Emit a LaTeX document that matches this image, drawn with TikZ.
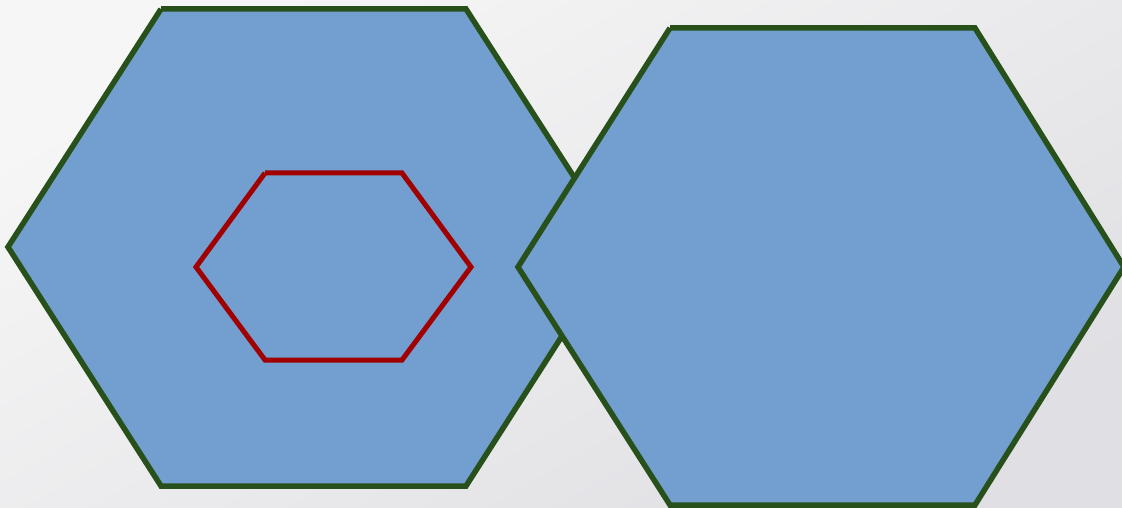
\documentclass[tikz,border=0pt]{standalone}
\usetikzlibrary{shadings}
\definecolor{hexfill}{HTML}{729FCF}
\definecolor{hexline}{HTML}{27501A}
\definecolor{redline}{HTML}{A00000}
\definecolor{bgA}{HTML}{F6F6F6}
\definecolor{bgB}{HTML}{E0E0E4}
\tikzset{
  bighex/.style={fill=hexfill, draw=hexline, line width=5.5pt, line join=miter},
  redhex/.style={draw=redline, line width=5pt, line join=miter},
}
\begin{document}
\begin{tikzpicture}[x=1pt,y=-1pt]
\useasboundingbox (0,0) rectangle (1122,508);
\clip (0,0) rectangle (1122,508);
\shade[shading=axis, top color=bgA, bottom color=bgB, shading angle=30] (0,0) rectangle (1122,508);
% left hexagon
\fill[hexfill] (8,247) -- (161,9) -- (466,9) -- (619,247) -- (466,486) -- (161,486) -- cycle;
\draw[bighex, fill=none] (161,9) -- (466,9) -- (619,247) -- (466,486) -- (161,486) -- (8,247) -- (161,9);
% inner red hexagon
\draw[redhex] (265,173) -- (402,173) -- (471,267) -- (402,360) -- (265,360) -- (196,267) -- (265,173);
% right hexagon
\fill[hexfill] (518,267) -- (670,28) -- (975,28) -- (1124,267) -- (975,505) -- (670,505) -- cycle;
\draw[bighex, fill=none] (670,28) -- (975,28) -- (1124,267) -- (975,505) -- (670,505) -- (518,267) -- (670,28);
\end{tikzpicture}
\end{document}
